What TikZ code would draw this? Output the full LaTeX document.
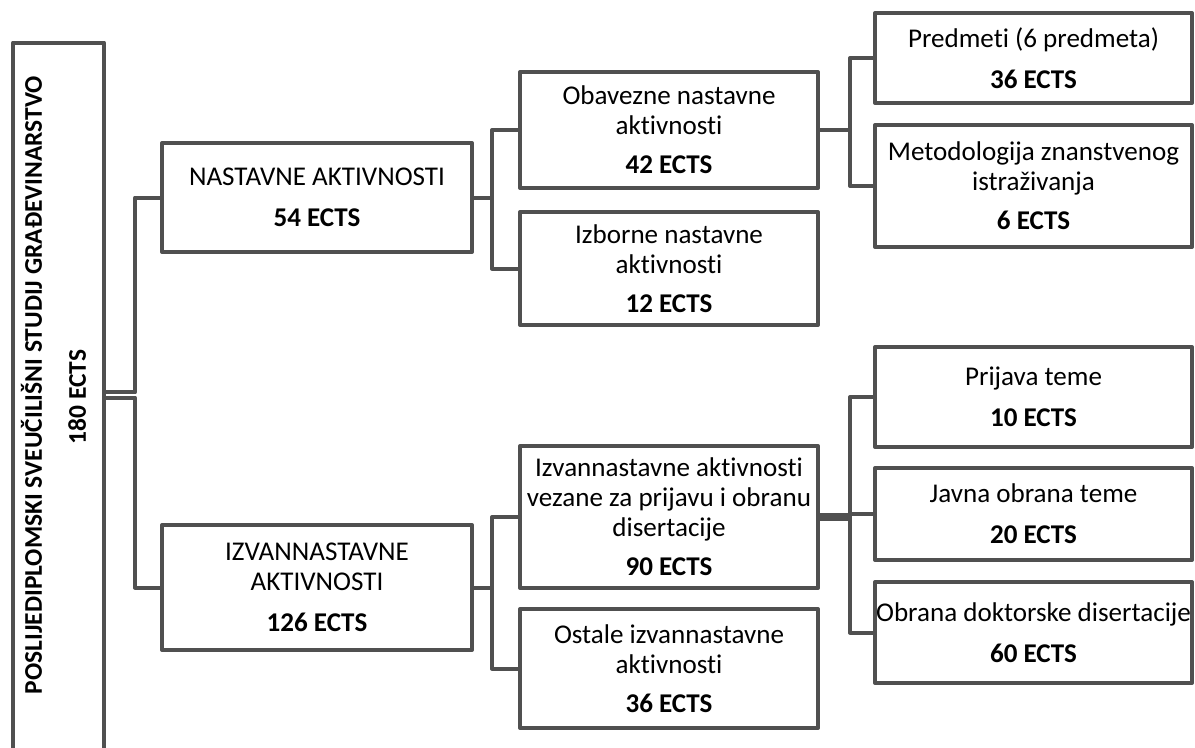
\documentclass[tikz,border=0pt]{standalone}
\usepackage{fontspec}
\setmainfont{Carlito}[Ligatures={NoCommon}]
\usetikzlibrary{calc}
\definecolor{ln}{HTML}{505050}
\begin{document}
\begin{tikzpicture}[x=0.75pt,y=-0.75pt,
  box/.style={draw=ln, line width=3pt, line join=round, inner sep=0pt, align=center,
    font=\fontsize{20.3}{22.5}\selectfont, text=black},
  sz/.style 2 args={minimum width=#1*0.75pt, minimum height=#2*0.75pt},
  conn/.style={draw=ln, line width=3pt, line join=round},
  thickconn/.style={draw=ln, line width=6pt}]
\fill[white] (0,0) rectangle (1195,747);
\useasboundingbox (0,0) rectangle (1195,747);

\node[box, rotate=90, sz={709}{91}, font=\fontsize{19.1}{22}\selectfont] (root) at (58.5,397)
  {\hspace*{18pt}\textbf{POSLIJEDIPLOMSKI SVEUČILIŠNI STUDIJ GRAĐEVINARSTVO}\\[11pt]\textbf{180 ECTS}\\[-14.5pt]\mbox{}};

\node[box, sz={310}{109}] (nast) at (317,197.5) {NASTAVNE AKTIVNOSTI\\[8pt]\textbf{54 ECTS}};
\node[box, sz={310}{125}] (izv) at (317,587.5) {IZVANNASTAVNE\\AKTIVNOSTI\\[8pt]\textbf{126 ECTS}};

\node[box, sz={298}{116}] (obav) at (669,130) {Obavezne nastavne\\aktivnosti\\[7pt]\textbf{42 ECTS}};
\node[box, sz={298}{113}] (izb) at (669,268.5) {Izborne nastavne\\aktivnosti\\[7pt]\textbf{12 ECTS}};
\node[box, sz={298}{142}] (izvv) at (669,517) {Izvannastavne aktivnosti\\vezane za prijavu i obranu\\disertacije\\[7pt]\textbf{90 ECTS}};
\node[box, sz={298}{119}] (ost) at (669,668.5) {Ostale izvannastavne\\aktivnosti\\[7pt]\textbf{36 ECTS}};

\node[box, sz={317}{90}] (pred) at (1033.5,58) {Predmeti (6 predmeta)\\[8pt]\textbf{36 ECTS}};
\node[box, sz={317}{122}] (met) at (1033.5,186) {Metodologija znanstvenog\\istraživanja\\[7pt]\textbf{6 ECTS}};
\node[box, sz={317}{100}] (prij) at (1033.5,397) {Prijava teme\\[8pt]\textbf{10 ECTS}};
\node[box, sz={317}{92}] (javna) at (1033.5,514) {Javna obrana teme\\[8pt]\textbf{20 ECTS}};
\node[box, sz={317}{101}] (obr) at (1033.5,632.5) {Obrana doktorske disertacije\\[8pt]\textbf{60 ECTS}};

% connectors
\draw[conn] ([yshift=3.4pt]root.south) -- ++(29,0) |- (nast.west);
\draw[conn] ([yshift=-0.4pt]root.south) -- ++(29,0) |- (izv.west);

\draw[conn] (nast.east) -- ++(18,0) coordinate (j1);
\draw[conn] (obav.west) -| (j1) |- (izb.west);

\draw[conn] (izv.east) -- ++(18,0) coordinate (j2);
\draw[conn] (izvv.west) -| (j2) |- (ost.west);

\draw[conn] (obav.east) -- ++(30,0) coordinate (j3);
\draw[conn] (pred.west) -| (j3) |- (met.west);

\draw[thickconn] (izvv.east) -- ++(30,0) coordinate (j4);
\draw[conn] (prij.west) -| (j4) |- (obr.west);
\draw[conn] (javna.west) -- (javna.west -| j4);
\end{tikzpicture}
\end{document}
